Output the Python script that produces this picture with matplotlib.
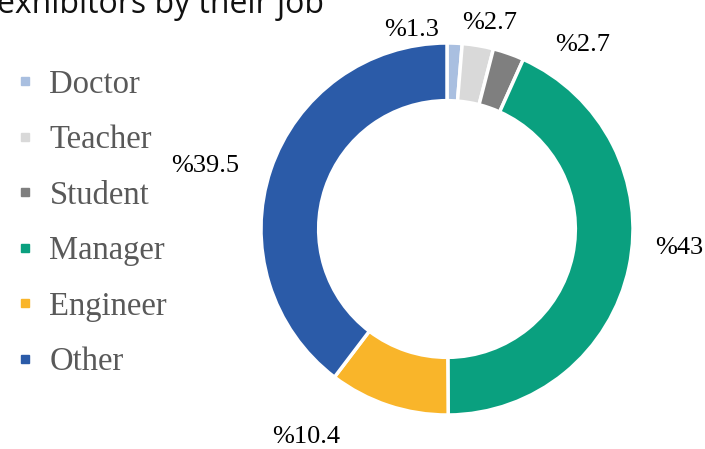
import matplotlib.pyplot as plt
from matplotlib.lines import Line2D

jobs = ["Doctor", "Teacher", "Student", "Manager", "Engineer", "Other"]
shares = [1.3, 2.7, 2.7, 43, 10.4, 39.5]
labels = ["%1.3", "%2.7", "%2.7", "%43", "%10.4", "%39.5"]
colors = ["#a9bfe0", "#d9d9d9", "#7f7f7f", "#0aa07f", "#f9b52a", "#2b5ba8"]

# label spots around the ring (pie axes units)
label_xy = [(-0.19, 1.07), (0.23, 1.11), (0.73, 0.99),
            (1.25, -0.10), (-0.76, -1.12), (-1.30, 0.34)]

fig = plt.figure(figsize=(7.05, 4.49), dpi=100)

W, H = 705, 449
cx, cy, r = 447, 229, 186
ax = fig.add_axes([(cx - r) / W, (H - cy - r) / H, 2 * r / W, 2 * r / H])
ax.pie(shares, colors=colors, startangle=90, counterclock=False, radius=1,
       wedgeprops=dict(width=0.31, edgecolor="white", linewidth=2.5))
ax.set_xlim(-1, 1)
ax.set_ylim(-1, 1)
ax.set_aspect("equal")
ax.axis("off")

for txt, (x, y) in zip(labels, label_xy):
    ax.text(x, y, txt, ha="center", va="center", fontsize=19,
            family="Liberation Serif", color="black", clip_on=False)

fig.text(-0.004, 1.0 - 13 / H, "exhibitors by their job", fontsize=23,
         family="Open Sans", color="#111111", ha="left", va="baseline")

handles = [Line2D([], [], marker="s", linestyle="none", markersize=6,
                  markerfacecolor=c, markeredgecolor=c) for c in colors]
leg = fig.legend(handles, jobs, loc="upper left", bbox_to_anchor=(-0.004, 0.882),
                 frameon=False, handlelength=0.7, handletextpad=0.4,
                 labelspacing=0.765, borderpad=0,
                 prop=dict(family="Liberation Serif", size=23.5))
for t in leg.get_texts():
    t.set_color("#595959")

fig.savefig("out.png", dpi=100)
